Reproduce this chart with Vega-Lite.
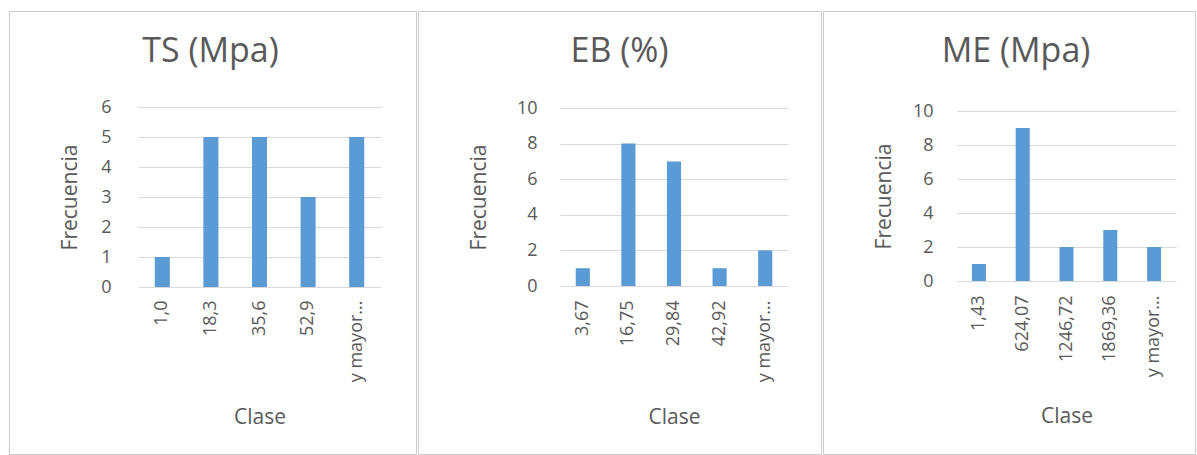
{
  "$schema": "https://vega.github.io/schema/vega-lite/v6.json",
  "padding": {"left": 8, "top": 10, "right": 0, "bottom": 0},
  "background": "white",
  "spacing": 0,
  "datasets": {
    "ts": [
      {"clase": "1,0", "frecuencia": 1},
      {"clase": "18,3", "frecuencia": 5},
      {"clase": "35,6", "frecuencia": 5},
      {"clase": "52,9", "frecuencia": 3},
      {"clase": "y mayor...", "frecuencia": 5}
    ],
    "eb": [
      {"clase": "3,67", "frecuencia": 1},
      {"clase": "16,75", "frecuencia": 8},
      {"clase": "29,84", "frecuencia": 7},
      {"clase": "42,92", "frecuencia": 1},
      {"clase": "y mayor...", "frecuencia": 2}
    ],
    "me": [
      {"clase": "1,43", "frecuencia": 1},
      {"clase": "624,07", "frecuencia": 9},
      {"clase": "1246,72", "frecuencia": 2},
      {"clase": "1869,36", "frecuencia": 3},
      {"clase": "y mayor...", "frecuencia": 2}
    ]
  },
  "hconcat": [
    {
      "width": 407,
      "height": 443,
      "data": {"name": "ts"},
      "title": {"text": "TS (Mpa)", "offset": -58, "dx": -2},
      "mark": {"type": "bar", "color": "#5b9bd5"},
      "encoding": {
        "x": {
          "field": "clase", "type": "nominal", "sort": null,
          "scale": {"range": [129, 372], "paddingInner": 0.69, "paddingOuter": 0.345},
          "axis": {"title": "Clase", "offset": -167, "labelPadding": 13, "titlePadding": 25}
        },
        "y": {
          "field": "frecuencia", "type": "quantitative",
          "scale": {"domain": [0, 6], "range": [276, 96], "nice": false},
          "axis": {"title": "Frecuencia", "values": [0, 1, 2, 3, 4, 5, 6], "offset": -129, "labelPadding": 27, "titlePadding": 20}
        }
      }
    },
    {
      "width": 403,
      "height": 443,
      "data": {"name": "eb"},
      "title": {"text": "EB (%)", "offset": -58, "dx": 0},
      "mark": {"type": "bar", "color": "#5b9bd5"},
      "encoding": {
        "x": {
          "field": "clase", "type": "nominal", "sort": null,
          "scale": {"range": [142, 370], "paddingInner": 0.69, "paddingOuter": 0.345},
          "axis": {"title": "Clase", "offset": -168, "labelPadding": 14, "titlePadding": 25}
        },
        "y": {
          "field": "frecuencia", "type": "quantitative",
          "scale": {"domain": [0, 10], "range": [275, 97], "nice": false},
          "axis": {"title": "Frecuencia", "values": [0, 2, 4, 6, 8, 10], "offset": -142, "labelPadding": 23, "titlePadding": 27}
        }
      }
    },
    {
      "width": 372,
      "height": 443,
      "data": {"name": "me"},
      "title": {"text": "ME (Mpa)", "offset": -58, "dx": 7},
      "mark": {"type": "bar", "color": "#5b9bd5"},
      "encoding": {
        "x": {
          "field": "clase", "type": "nominal", "sort": null,
          "scale": {"range": [134, 353], "paddingInner": 0.68, "paddingOuter": 0.34},
          "axis": {"title": "Clase", "offset": -173, "labelPadding": 14, "titlePadding": 29}
        },
        "y": {
          "field": "frecuencia", "type": "quantitative",
          "scale": {"domain": [0, 10], "range": [270, 100], "nice": false},
          "axis": {"title": "Frecuencia", "values": [0, 2, 4, 6, 8, 10], "offset": -134, "labelPadding": 24, "titlePadding": 18}
        }
      }
    }
  ],
  "config": {
    "font": "Open Sans",
    "view": {"stroke": "#cccccc", "strokeWidth": 1},
    "title": {
      "font": "Open Sans", "fontSize": 34, "fontWeight": "normal", "color": "#595959",
      "anchor": "middle", "frame": "group", "baseline": "alphabetic"
    },
    "axis": {
      "labelFont": "Open Sans", "labelFontSize": 18, "labelColor": "#595959",
      "titleFont": "Open Sans", "titleFontSize": 21, "titleFontWeight": "normal", "titleColor": "#595959",
      "domain": false, "ticks": false, "gridColor": "#d9d9d9", "gridWidth": 1
    },
    "axisX": {"grid": false, "labelAngle": -90, "labelOverlap": false},
    "axisY": {"grid": true}
  }
}
